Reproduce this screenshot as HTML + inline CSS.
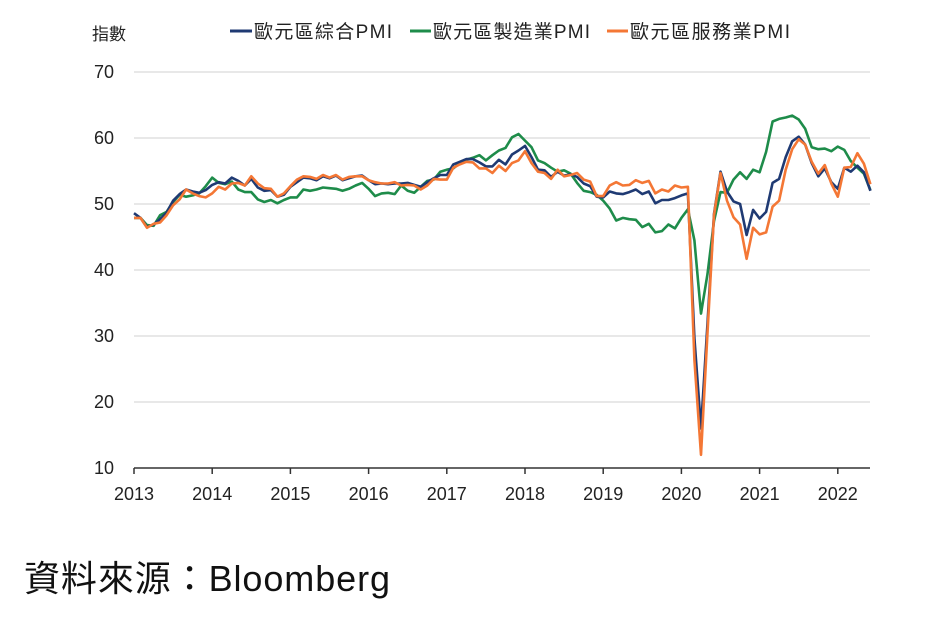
<!DOCTYPE html>
<html><head><meta charset="utf-8"><style>
body{margin:0;background:#fff;width:949px;height:617px;overflow:hidden;font-family:"Liberation Sans","Noto Sans CJK TC",sans-serif;}
</style></head><body>
<svg id="s" width="949" height="617" xmlns="http://www.w3.org/2000/svg" font-family="'Liberation Sans','Noto Sans CJK TC',sans-serif">
<g stroke="#e0e0e0" stroke-width="1.5">
<line x1="134" x2="870" y1="72" y2="72"/><line x1="134" x2="870" y1="138" y2="138"/><line x1="134" x2="870" y1="204" y2="204"/><line x1="134" x2="870" y1="270" y2="270"/><line x1="134" x2="870" y1="336" y2="336"/><line x1="134" x2="870" y1="402" y2="402"/>
</g>
<line x1="134" x2="870" y1="468" y2="468" stroke="#333" stroke-width="1.5"/>
<g font-size="18" fill="#222" text-anchor="end">
<text x="114" y="78">70</text><text x="114" y="144">60</text><text x="114" y="210">50</text><text x="114" y="276">40</text><text x="114" y="342">30</text><text x="114" y="408">20</text><text x="114" y="474">10</text>
</g>
<g id="xt" font-size="18" fill="#222" text-anchor="middle"></g>
<text x="92" y="40" font-size="17" fill="#222">指數</text>
<g font-size="19" fill="#222">
<line x1="230" x2="252" y1="31" y2="31" stroke="#1f3a73" stroke-width="3"/><text x="254" y="38" textLength="138">歐元區綜合PMI</text>
<line x1="410" x2="431" y1="31" y2="31" stroke="#1e8c4a" stroke-width="3"/><text x="433" y="38" textLength="157">歐元區製造業PMI</text>
<line x1="607" x2="628" y1="31" y2="31" stroke="#f47735" stroke-width="3"/><text x="630" y="38" textLength="160">歐元區服務業PMI</text>
</g>
<g id="lines" fill="none" stroke-width="2.6" stroke-linejoin="round"></g>
<text x="24" y="591" font-size="36" fill="#111" textLength="366">資料來源：Bloomberg</text>
</svg>
<script>
var C=[48.6,47.9,46.5,46.9,47.7,48.7,50.5,51.5,52.2,51.9,51.7,52.1,52.9,53.3,53.1,54.0,53.5,52.8,53.8,52.5,52.0,52.1,51.1,51.4,52.6,53.3,54.0,53.9,53.6,54.2,53.9,54.3,53.6,53.9,54.2,54.3,53.6,53.0,53.1,53.0,53.1,53.1,53.2,52.9,52.6,53.3,53.9,54.4,54.4,56.0,56.4,56.8,56.8,56.3,55.7,55.7,56.7,56.0,57.5,58.1,58.8,57.1,55.2,55.1,54.1,54.9,54.3,54.5,54.1,53.1,52.7,51.1,51.0,51.9,51.6,51.5,51.8,52.2,51.5,51.9,50.1,50.6,50.6,50.9,51.3,51.6,29.7,16.0,31.9,48.5,54.9,51.9,50.4,50.0,45.3,49.1,47.8,48.8,53.2,53.8,57.1,59.5,60.2,59.0,56.2,54.2,55.4,53.3,52.3,55.5,54.9,55.8,54.8,52.0];
var M=[47.9,47.9,46.8,46.7,48.3,48.8,50.3,51.4,51.1,51.3,51.6,52.7,54.0,53.2,53.0,53.4,52.2,51.8,51.8,50.7,50.3,50.6,50.1,50.6,51.0,51.0,52.2,52.0,52.2,52.5,52.4,52.3,52.0,52.3,52.8,53.2,52.3,51.2,51.6,51.7,51.5,52.8,52.0,51.7,52.6,53.5,53.7,54.9,55.2,55.4,56.2,56.7,57.0,57.4,56.6,57.4,58.1,58.5,60.1,60.6,59.6,58.6,56.6,56.2,55.5,54.9,55.1,54.6,53.2,52.0,51.8,51.4,50.5,49.3,47.5,47.9,47.7,47.6,46.5,47.0,45.7,45.9,46.9,46.3,47.9,49.2,44.5,33.4,39.4,47.4,51.8,51.7,53.7,54.8,53.8,55.2,54.8,57.9,62.5,62.9,63.1,63.4,62.8,61.4,58.6,58.3,58.4,58.0,58.7,58.2,56.5,55.5,54.6,52.1];
var S=[47.9,47.9,46.4,47.0,47.2,48.3,49.8,50.7,52.2,51.6,51.2,51.0,51.6,52.6,52.2,53.1,53.2,52.8,54.2,53.1,52.4,52.3,51.1,51.6,52.7,53.7,54.2,54.1,53.8,54.4,54.0,54.4,53.7,54.1,54.2,54.2,53.6,53.3,53.1,53.1,53.3,52.8,52.9,52.8,52.2,52.8,53.8,53.7,53.7,55.5,56.0,56.4,56.3,55.4,55.4,54.7,55.8,55.0,56.2,56.6,58.0,56.2,54.9,54.7,53.8,55.2,54.2,54.4,54.7,53.7,53.4,51.2,51.2,52.8,53.3,52.8,52.9,53.6,53.2,53.5,51.6,52.2,51.9,52.8,52.5,52.6,26.4,12.0,30.5,48.3,54.7,50.5,48.0,46.9,41.7,46.4,45.4,45.7,49.6,50.5,55.2,58.3,59.8,59.0,56.4,54.6,55.9,53.1,51.1,55.5,55.6,57.7,56.1,53.0];
function pts(a){return a.map(function(v,i){return (134+i*78.2/12).toFixed(1)+","+(468-(v-10)*6.6).toFixed(1)}).join(" ")}
var g=document.getElementById("lines"),ns="http://www.w3.org/2000/svg";
[[M,"#1e8c4a"],[C,"#1f3a73"],[S,"#f47735"]].forEach(function(p){var l=document.createElementNS(ns,"polyline");l.setAttribute("points",pts(p[0]));l.setAttribute("stroke",p[1]);g.appendChild(l);});
var xt=document.getElementById("xt");
for(var y=0;y<10;y++){var x=134+y*78.2;var t=document.createElementNS(ns,"line");t.setAttribute("x1",x);t.setAttribute("x2",x);t.setAttribute("y1",468);t.setAttribute("y2",474);t.setAttribute("stroke","#333");t.setAttribute("stroke-width","1.5");xt.appendChild(t);
var s=document.createElementNS(ns,"text");s.setAttribute("x",x);s.setAttribute("y",500);s.textContent=2013+y;xt.appendChild(s);}
</script>
</body></html>
